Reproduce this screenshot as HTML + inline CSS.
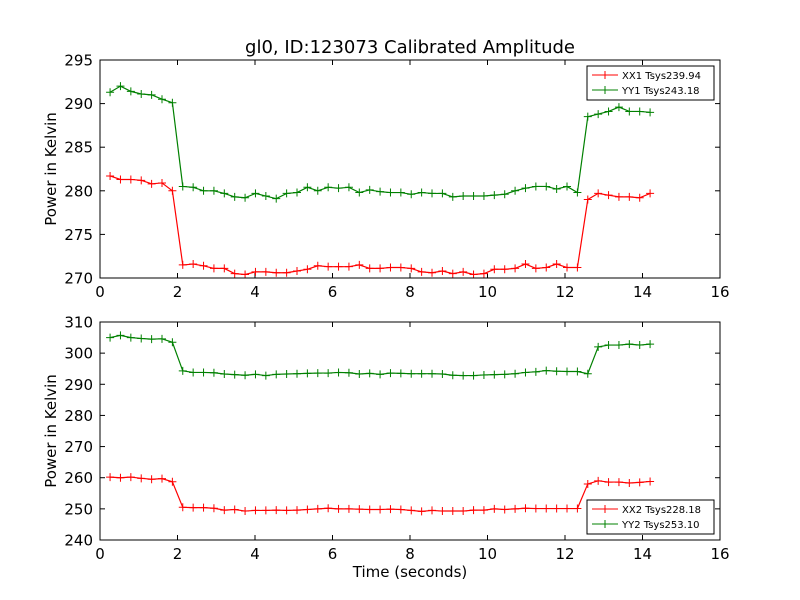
<!DOCTYPE html>
<html><head><meta charset="utf-8"><style>
body{margin:0;background:#fff;}
svg{display:block;font-family:"DejaVu Sans","Liberation Sans",sans-serif;}
</style></head><body>
<svg id="chart" width="800" height="600" viewBox="0 0 800 600"></svg>
<script>
const xx1=[281.7,281.3,281.3,281.2,280.8,280.9,280.0,271.5,271.6,271.4,271.1,271.1,270.5,270.4,270.7,270.7,270.6,270.6,270.8,271.0,271.4,271.3,271.3,271.3,271.5,271.1,271.1,271.2,271.2,271.1,270.7,270.6,270.8,270.5,270.7,270.4,270.5,271.0,271.0,271.1,271.6,271.1,271.2,271.6,271.2,271.2,279.0,279.7,279.5,279.3,279.3,279.2,279.7];
const yy1=[291.3,292.0,291.4,291.1,291.0,290.5,290.1,280.5,280.4,280.0,280.0,279.7,279.3,279.2,279.7,279.4,279.1,279.7,279.8,280.4,280.0,280.4,280.3,280.4,279.8,280.1,279.9,279.8,279.8,279.6,279.8,279.7,279.7,279.3,279.4,279.4,279.4,279.5,279.6,280.0,280.3,280.5,280.5,280.2,280.5,279.8,288.5,288.8,289.1,289.6,289.1,289.1,289.0];
const xx2=[260.2,260.0,260.2,259.8,259.5,259.7,258.7,250.5,250.4,250.4,250.2,249.6,249.8,249.3,249.5,249.5,249.6,249.5,249.6,249.8,250.0,250.2,250.0,250.0,249.9,249.8,249.8,249.9,249.8,249.5,249.2,249.5,249.3,249.3,249.3,249.6,249.6,250.0,249.8,250.0,250.2,250.1,250.1,250.1,250.1,250.1,258.0,259.0,258.6,258.6,258.3,258.5,258.8];
const yy2=[305.0,305.7,305.0,304.7,304.5,304.6,303.5,294.3,293.8,293.8,293.7,293.3,293.1,292.9,293.2,292.8,293.2,293.3,293.4,293.5,293.6,293.6,293.8,293.7,293.3,293.5,293.2,293.6,293.5,293.4,293.4,293.4,293.3,292.9,292.8,292.8,293.0,293.1,293.2,293.4,293.8,294.0,294.4,294.2,294.1,294.1,293.4,302.0,302.6,302.6,302.9,302.6,302.9];
const t0=0.26, dt=0.268;
const xTicks=[0,2,4,6,8,10,12,14,16];
const yTicksTop=[270,275,280,285,290,295];
const yTicksBot=[240,250,260,270,280,290,300,310];
const NS="http://www.w3.org/2000/svg";
const svg=document.getElementById('chart');
function el(tag,attrs,parent){const e=document.createElementNS(NS,tag);for(const k in attrs)e.setAttribute(k,attrs[k]);(parent||svg).appendChild(e);return e;}
function panel(name,top,bottom,ymin,ymax,yTicks,s1,s2,l1,l2,legY){
  const L=100,R=720;
  const g=el('g',{});
  
  
  const xs=v=>L+(v-0)/16*(R-L);
  const ys=v=>bottom-(v-ymin)/(ymax-ymin)*(bottom-top);
  xTicks.forEach(v=>{
    el('line',{x1:xs(v),x2:xs(v),y1:bottom,y2:bottom-5,stroke:'#000'},g);
    el('line',{x1:xs(v),x2:xs(v),y1:top,y2:top+5,stroke:'#000'},g);
    const tx=el('text',{x:xs(v),y:bottom+19,'font-size':15,'text-anchor':'middle'},g);tx.textContent=v;
    
    
  });
  yTicks.forEach(v=>{
    el('line',{x1:L,x2:L+5,y1:ys(v),y2:ys(v),stroke:'#000'},g);
    el('line',{x1:R,x2:R-5,y1:ys(v),y2:ys(v),stroke:'#000'},g);
    const tx=el('text',{x:L-7,y:ys(v)+5.5,'font-size':15,'text-anchor':'end'},g);tx.textContent=v;
    
    
  });
  [[s1,'#ff0000',l1],[s2,'#008000',l2]].forEach(([s,c,nm])=>{
    const pts=s.map((v,i)=>[xs(t0+dt*i),ys(v)]);
    const p=el('polyline',{points:pts.map(p=>p.join(',')).join(' '),fill:'none',stroke:c,'stroke-width':1.2},g);
    
    
    pts.forEach(([x,y])=>{el('path',{d:`M${x-4},${y}H${x+4}M${x},${y-4}V${y+4}`,stroke:c,'stroke-width':1},g);});
  });
  el('rect',{x:L,y:top,width:R-L,height:bottom-top,fill:'none',stroke:'#000'},g);
  const lg=el('g',{},g);
  
  
  el('rect',{x:587,y:legY,width:127,height:34,fill:'#fff',stroke:'#000'},lg);
  [[l1,'#ff0000',legY+9],[l2,'#008000',legY+24]].forEach(([t,c,y])=>{
    el('line',{x1:592,x2:618,y1:y,y2:y,stroke:c},lg);
    el('path',{d:`M605,${y-4}V${y+4}`,stroke:c},lg);
    const tx=el('text',{x:622,y:y+4,'font-size':10},lg);tx.textContent=t;
    
    
  });
  const yl=el('text',{x:0,y:0,'font-size':15,'text-anchor':'middle',transform:`translate(56,${(top+bottom)/2}) rotate(-90)`},g);
  yl.textContent='Power in Kelvin';
  
  
}
panel('top-panel',60,278,270,295,yTicksTop,xx1,yy1,'XX1 Tsys239.94','YY1 Tsys243.18',66);
panel('bottom-panel',322,540,240,310,yTicksBot,xx2,yy2,'XX2 Tsys228.18','YY2 Tsys253.10',500);
const title=el('text',{x:410,y:53,'font-size':18,'text-anchor':'middle'});
title.textContent='gl0, ID:123073 Calibrated Amplitude';


const xl=el('text',{x:410,y:577,'font-size':15,'text-anchor':'middle'});
xl.textContent='Time (seconds)';


</script>
</body></html>
